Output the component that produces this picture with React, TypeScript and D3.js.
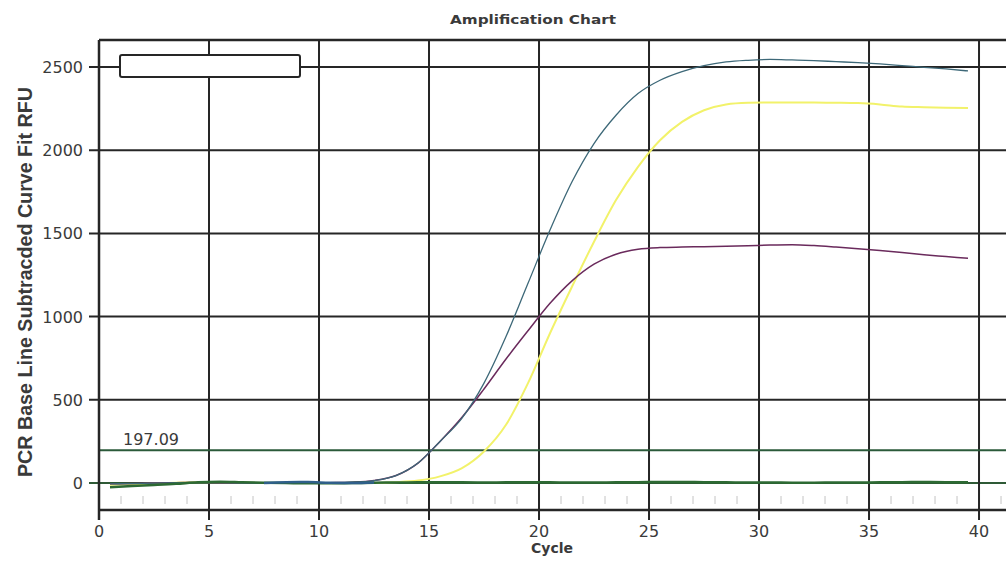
import React from "react";
import * as d3 from "d3";

const cycles = [0.5, 1.5, 2.5, 3.5, 4.5, 5.5, 6.5, 7.5, 8.5, 9.5, 10.5, 11.5, 12.5, 13.5, 14.5, 15.5, 16.5, 17.5, 18.5, 19.5, 20.5, 21.5, 22.5, 23.5, 24.5, 25.5, 26.5, 27.5, 28.5, 29.5, 30.5, 31.5, 32.5, 33.5, 34.5, 35.5, 36.5, 37.5, 38.5, 39.5];
const tealValues = [-5, -3, 0, 2, 3, 2, 0, -2, 0, 0, 2, 5, 15, 45, 120, 250, 390, 600, 880, 1200, 1520, 1810, 2040, 2210, 2340, 2420, 2472, 2508, 2530, 2540, 2545, 2542, 2538, 2532, 2526, 2518, 2508, 2498, 2488, 2476];
const purpleValues = [-5, -3, 0, 2, 3, 2, 0, -2, 0, 0, 2, 5, 15, 45, 120, 250, 395, 565, 745, 915, 1080, 1215, 1315, 1375, 1405, 1415, 1418, 1420, 1423, 1426, 1430, 1432, 1427, 1418, 1408, 1397, 1385, 1372, 1361, 1350];
const yellowValues = [-10, -8, -3, 2, 5, 4, 2, 0, 0, 0, 0, 0, 0, 5, 15, 40, 90, 190, 350, 600, 900, 1180, 1450, 1700, 1900, 2060, 2170, 2240, 2275, 2285, 2287, 2287, 2286, 2285, 2283, 2275, 2262, 2258, 2255, 2254];
const greenValues = [-25, -18, -12, -5, 5, 8, 5, 2, 0, -2, -2, 0, 2, 3, 4, 5, 4, 3, 4, 5, 4, 3, 3, 4, 5, 6, 6, 5, 4, 3, 3, 2, 2, 3, 3, 4, 5, 6, 5, 4];
const blueCycles = [7.5, 8.5, 9.5, 10.5, 11.5, 12.5];
const blueValues = [0, 5, 6, 1, 0, 3];
const xTicks = [0, 5, 10, 15, 20, 25, 30, 35, 40];
const minorXTicks = [1, 2, 3, 4, 6, 7, 8, 9, 11, 12, 13, 14, 16, 17, 18, 19, 21, 22, 23, 24, 26, 27, 28, 29, 31, 32, 33, 34, 36, 37, 38, 39, 41];
const yTicks = [0, 500, 1000, 1500, 2000, 2500];
const threshold = 197.09;
const thresholdLabel = "197.09";
const title = "Amplification Chart";
const xLabel = "Cycle";
const yLabel = "PCR Base Line Subtracded Curve Fit RFU";

export default function App() {
  const W = 1006;
  const H = 565;
  const left = 99;
  const right = 1003;
  const top = 40;
  const bottom = 510;
  const x = d3.scaleLinear().domain([0, 41.09]).range([left, right]);
  const y = d3.scaleLinear().domain([-162, 2662]).range([bottom, top]);
  const line = d3
    .line<[number, number]>()
    .x((d) => x(d[0]))
    .y((d) => y(d[1]))
    .curve(d3.curveMonotoneX);
  const mk = (xs: number[], vs: number[]) => line(xs.map((c, i) => [c, vs[i]] as [number, number])) || "";
  const gridColor = "#262626";
  const tickFont = "'DejaVu Sans', Verdana, sans-serif";
  const labelFont = "'Liberation Sans', Arial, sans-serif";
  const textColor = "#3a3a3a";

  return (
    <svg width={W} height={H} style={{ position: "absolute", left: 0, top: 0, background: "#fff" }}>
      <rect x={0} y={0} width={W} height={H} fill="#fff" />
      <text x={533} y={24} textAnchor="middle" fontFamily={tickFont} fontWeight="bold" fontSize={13} fill={textColor} textLength={166} lengthAdjust="spacingAndGlyphs">
        {title}
      </text>
      {/* minor ticks near bottom */}
      {minorXTicks.map((t) => (
        <line key={"m" + t} x1={x(t)} x2={x(t)} y1={bottom - 14} y2={bottom - 6} stroke="#c4c4c4" strokeWidth={1} />
      ))}
      {/* horizontal grid */}
      {yTicks.map((t) => (
        <g key={"y" + t}>
          <line x1={left - 10} x2={W} y1={y(t)} y2={y(t)} stroke={t === 0 ? "#2e5a36" : gridColor} strokeWidth={2} />
          <text x={83} y={y(t) + 6} textAnchor="end" fontFamily={tickFont} fontSize={16} fill={textColor}>
            {t}
          </text>
        </g>
      ))}
      {/* vertical grid */}
      {xTicks.map((t) => (
        <g key={"x" + t}>
          <line x1={x(t)} x2={x(t)} y1={top} y2={bottom + 10} stroke={gridColor} strokeWidth={2} />
          <text x={x(t)} y={537} textAnchor="middle" fontFamily={tickFont} fontSize={16} fill={textColor}>
            {t}
          </text>
        </g>
      ))}
      {/* threshold */}
      <line x1={left} x2={W} y1={y(threshold)} y2={y(threshold)} stroke="#2b5a3a" strokeWidth={1.8} />
      <text x={123} y={445} fontFamily={tickFont} fontSize={16} fill={textColor}>
        {thresholdLabel}
      </text>
      {/* curves */}
      <path d={mk(cycles, yellowValues)} fill="none" stroke="#f2f26a" strokeWidth={2} />
      <path d={mk(cycles, purpleValues)} fill="none" stroke="#6a2a5c" strokeWidth={1.5} />
      <path d={mk(cycles, tealValues)} fill="none" stroke="#3d6878" strokeWidth={1.3} />
      <path d={mk(cycles, greenValues)} fill="none" stroke="#2d6a33" strokeWidth={2.5} />
      <path d={mk(blueCycles, blueValues)} fill="none" stroke="#2f5f8a" strokeWidth={2.5} />
      {/* border */}
      <line x1={left} x2={W} y1={top} y2={top} stroke={gridColor} strokeWidth={2.5} />
      <line x1={left} x2={W} y1={bottom} y2={bottom} stroke={gridColor} strokeWidth={2.5} />
      <line x1={left} x2={left} y1={top} y2={bottom + 10} stroke={gridColor} strokeWidth={2.5} />
      {/* legend box */}
      <rect x={120} y={55} width={180} height={22} rx={2} fill="#fff" stroke={gridColor} strokeWidth={2} />
      <text x={552} y={553} textAnchor="middle" fontFamily={tickFont} fontWeight="bold" fontSize={14} fill={textColor}>
        {xLabel}
      </text>
      <text
        transform={`translate(32, 282) rotate(-90)`}
        textAnchor="middle"
        fontFamily={labelFont}
        fontWeight="bold"
        fontSize={21}
        fill={textColor}
        textLength={390}
        lengthAdjust="spacingAndGlyphs"
      >
        {yLabel}
      </text>
    </svg>
  );
}
